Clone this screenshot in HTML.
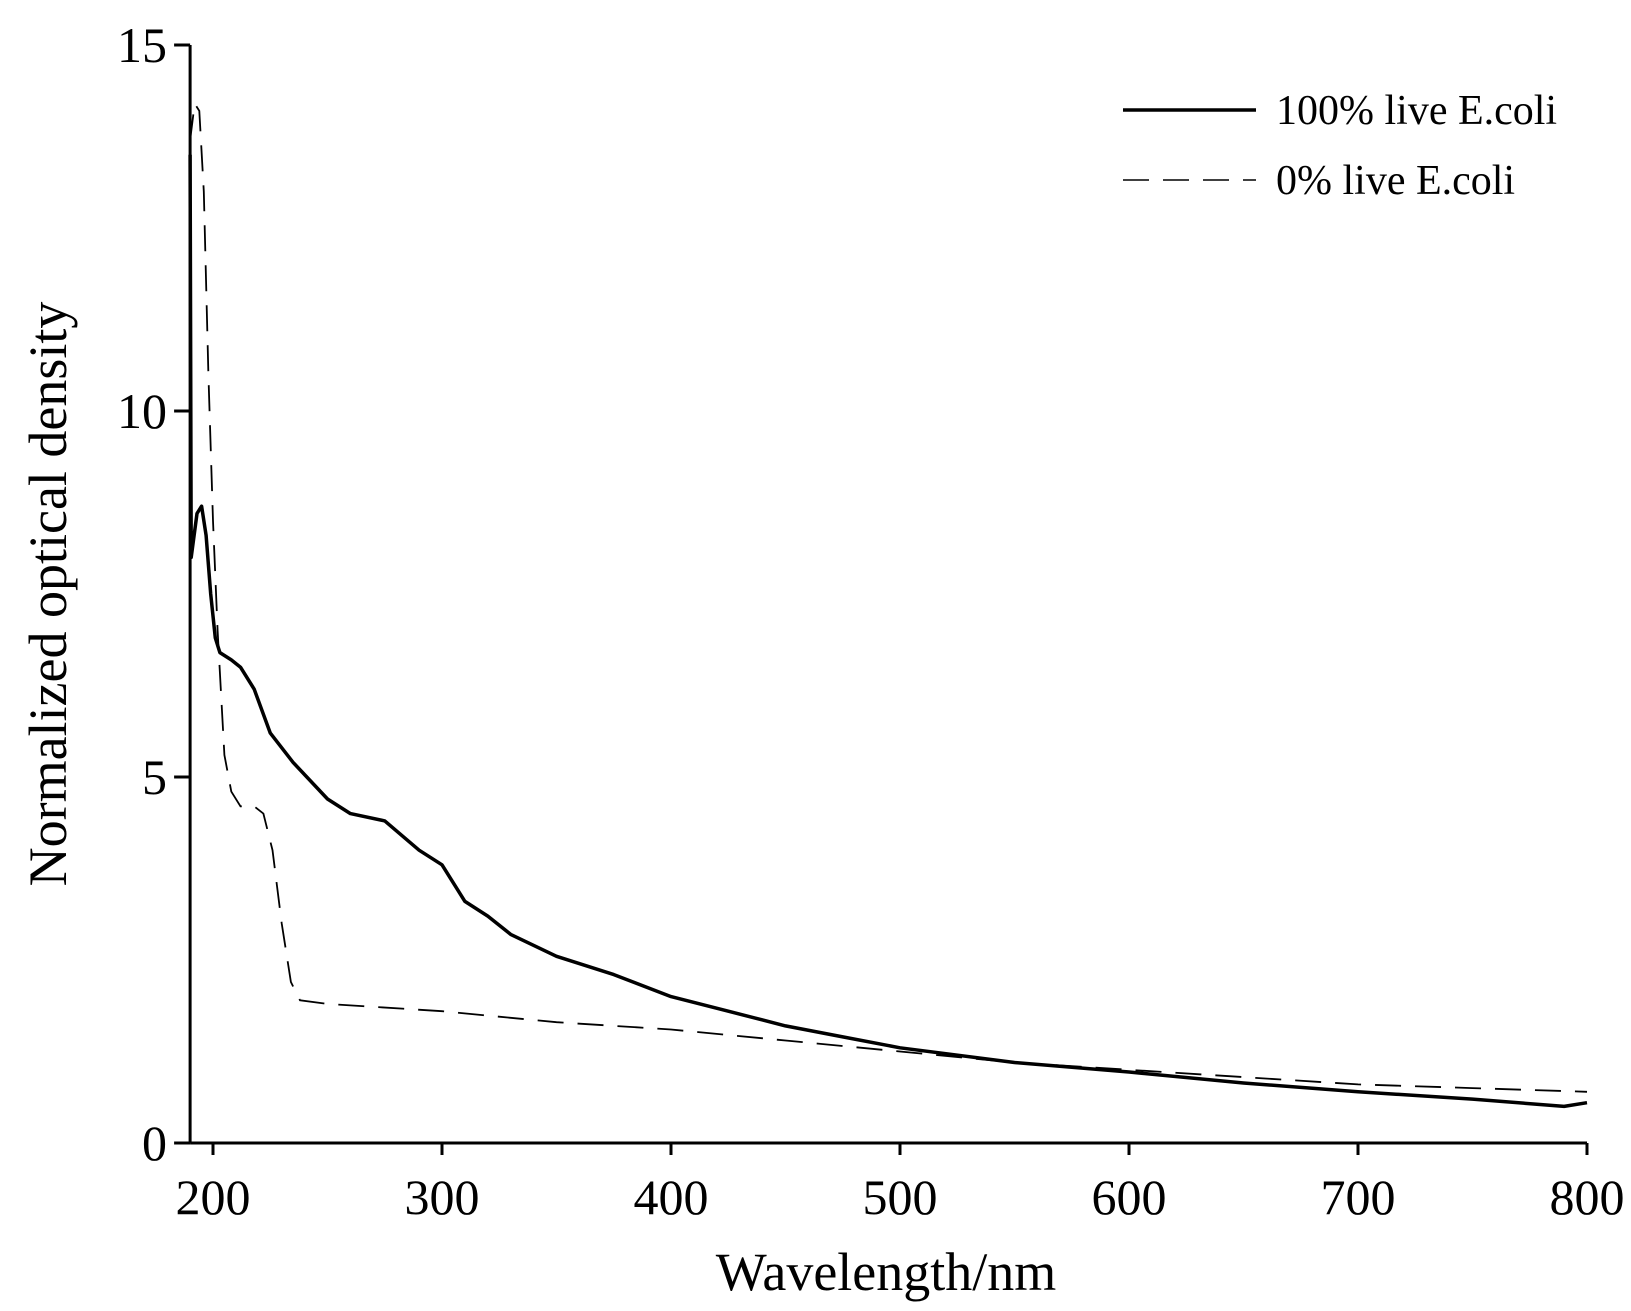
<!DOCTYPE html>
<html><head><meta charset="utf-8"><style>
body{margin:0;background:#fff}
svg text{font-family:"Liberation Serif",serif;fill:#000}
</style></head><body>
<svg width="1631" height="1306" viewBox="0 0 1631 1306">
<g id="axes"></g><g id="series"></g>
<g>
<line x1="1123" y1="110" x2="1256" y2="110" stroke="#000" stroke-width="3.5"/>
<text x="1276" y="124" font-size="42">100% live E.coli</text>
<line x1="1123" y1="180" x2="1256" y2="180" stroke="#000" stroke-width="1.5" stroke-dasharray="26,14"/>
<text x="1276" y="194" font-size="42">0% live E.coli</text>
</g>
<text x="886" y="1290" font-size="54" text-anchor="middle">Wavelength/nm</text>
<text transform="translate(66,594) rotate(-90)" font-size="54" text-anchor="middle">Normalized optical density</text>
</svg>
<script>
const xTicks=[200,300,400,500,600,700,800];
const yTicks=[0,5,10,15];
const liveWl=[190,190.5,193,195,197,199,201,203,208,212,218,225,235,250,260,275,290,300,310,320,330,350,375,400,425,450,475,500,550,600,650,700,750,790,800];
const liveOD=[13.5,8.0,8.6,8.7,8.3,7.5,6.9,6.7,6.6,6.5,6.2,5.6,5.2,4.7,4.5,4.4,4.0,3.8,3.3,3.1,2.85,2.55,2.3,2.0,1.8,1.6,1.45,1.3,1.1,0.97,0.82,0.7,0.6,0.5,0.55];
const deadWl=[190,192,194,196,198,200,202,205,208,212,218,222,226,230,234,238,250,300,350,400,450,500,550,600,650,700,750,800];
const deadOD=[13.7,14.2,14.1,13.0,10.5,8.5,7.0,5.3,4.8,4.6,4.6,4.5,4.0,3.0,2.2,1.95,1.9,1.8,1.65,1.55,1.4,1.25,1.1,1.0,0.9,0.8,0.75,0.7];
const X=w=>213+(w-200)*2.29;
const Y=v=>1143-v*73.2;
const NS="http://www.w3.org/2000/svg";
function mk(t,a,p){const e=document.createElementNS(NS,t);for(const k in a)e.setAttribute(k,a[k]);p.appendChild(e);return e;}
const ax=document.getElementById('axes');
let e=mk('line',{x1:X(190),y1:Y(0),x2:X(800),y2:Y(0),stroke:'#000','stroke-width':3},ax);


e=mk('line',{x1:X(190),y1:Y(0),x2:X(190),y2:Y(15),stroke:'#000','stroke-width':3},ax);


xTicks.forEach(t=>{
 e=mk('line',{x1:X(t),y1:Y(0),x2:X(t),y2:Y(0)+12,stroke:'#000','stroke-width':3},ax);
 
 
 e=mk('text',{x:X(t),y:1214,'font-size':50,'text-anchor':'middle'},ax);e.textContent=t;
 
 
});
yTicks.forEach(t=>{
 e=mk('line',{x1:X(190)-16,y1:Y(t),x2:X(190),y2:Y(t),stroke:'#000','stroke-width':3},ax);
 
 
 e=mk('text',{x:167,y:Y(t)+17,'font-size':50,'text-anchor':'end'},ax);e.textContent=t;
 
 
});
const sg=document.getElementById('series');
function path(w,v){return w.map((x,i)=>(i?'L':'M')+X(x).toFixed(1)+','+Y(v[i]).toFixed(1)).join('');}
e=mk('path',{d:path(deadWl,deadOD),fill:'none',stroke:'#000','stroke-width':1.8,'stroke-dasharray':'26,14'},sg);


e=mk('path',{d:path(liveWl,liveOD),fill:'none',stroke:'#000','stroke-width':3.5,'stroke-linejoin':'round'},sg);


</script>
</body></html>
